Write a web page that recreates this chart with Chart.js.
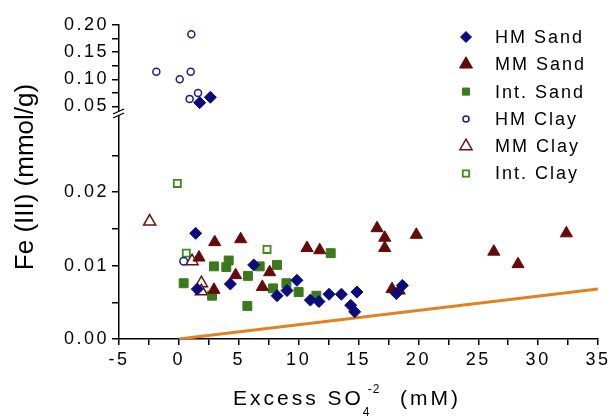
<!DOCTYPE html>
<html>
<head>
<meta charset="utf-8">
<script src="https://cdn.jsdelivr.net/npm/chart.js@4.4.0/dist/chart.umd.min.js"></script>
<style>
html, body { margin: 0; padding: 0; background: #fff; }
#wrap { width: 612px; height: 416px; position: relative; }
</style>
</head>
<body>
<div id="wrap"><canvas id="feChart"></canvas></div>
<script>
// [Excess SO4 (mM), Fe(III) (mmol/g)]
const hmSand = [[1.40, 0.0144], [1.54, 0.0068], [4.3, 0.0075], [6.25, 0.0101], [8.2, 0.0059],
    [9.03, 0.0066], [9.86, 0.0080], [10.98, 0.0053], [11.7, 0.0051], [12.54, 0.0061],
    [13.57, 0.0061], [14.87, 0.0064], [14.35, 0.0046], [14.68, 0.0037], [18.66, 0.0073], [18.16, 0.0062]];
const hmSandHigh = [[1.74, 0.057], [2.63, 0.067]];
const mmSand = [[2.99, 0.0132], [5.16, 0.0136], [1.68, 0.0111], [4.74, 0.0087], [7.58, 0.0091],
    [6.97, 0.0071], [2.93, 0.0067], [10.7, 0.0124], [11.76, 0.0121], [16.55, 0.0151],
    [17.19, 0.0138], [17.19, 0.0124], [19.83, 0.0142], [26.3, 0.0119], [28.32, 0.0102],
    [32.36, 0.0144], [17.8, 0.0068], [18.4, 0.0066]];
const intSand = [[0.4, 0.0076], [2.93, 0.0099], [4.16, 0.0107], [3.96, 0.0098], [5.77, 0.0086],
    [6.75, 0.0099], [8.19, 0.0101], [7.86, 0.0069], [2.77, 0.0059], [5.72, 0.0045],
    [8.98, 0.0076], [10.0, 0.0064], [11.48, 0.0059], [12.68, 0.0117]];
const hmClay = [[0.4, 0.0106]];
const hmClayHigh = [[1.04, 0.183], [-1.88, 0.114], [0.99, 0.114], [0.07, 0.100], [0.9, 0.064], [1.6, 0.075]];
const mmClay = [[-2.44, 0.0160], [1.1, 0.0106], [1.88, 0.0076], [1.88, 0.0065]];
const intClay = [[-0.13, 0.0212], [0.62, 0.0117], [7.36, 0.0122]];
const limitLine = [[0, 0], [35, 0.0068]];

const xMajor = [-5, 0, 5, 10, 15, 20, 25, 30, 35];
const xMinor = [-2.5, 2.5, 7.5, 12.5, 17.5, 22.5, 27.5, 32.5];
const lowMajor = [0, 0.01, 0.02];
const lowMinor = [0.005, 0.015, 0.025];
const highMajor = [0.05, 0.10, 0.15, 0.20];
const highMinor = [0.075, 0.125, 0.175];

const FONT = '"Liberation Sans", Arial, sans-serif';
Chart.defaults.font.family = FONT;
Chart.defaults.color = '#000';

const toXY = arr => arr.map(p => ({ x: p[0], y: p[1] }));
const has = (list, v) => list.some(m => Math.abs(m - v) < 1e-9);

// legend entries drawn by hand inside the plot
const legendItems = [
    { text: 'HM Sand', style: 'rectRot', r: 5.5, fill: '#0b0b7d', stroke: '#0b0b7d', bw: 1 },
    { text: 'MM Sand', style: 'triangle', r: 7.5, fill: '#650a0a', stroke: '#650a0a', bw: 1 },
    { text: 'Int. Sand', style: 'rect', r: 5, fill: '#3b7a1c', stroke: '#3b7a1c', bw: 1 },
    { text: 'HM Clay', style: 'circle', r: 3, fill: '#fff', stroke: '#1c1c8c', bw: 1.5 },
    { text: 'MM Clay', style: 'triangle', r: 7, fill: '#fff', stroke: '#6b1010', bw: 1.5 },
    { text: 'Int. Clay', style: 'rect', r: 4.5, fill: '#fff', stroke: '#3e8a1e', bw: 1.8 }
];

const decorations = {
    id: 'decorations',
    beforeLayout(chart) {
        chart.ctx.letterSpacing = '2.5px';
    },
    beforeDraw(chart) {
        const ctx = chart.ctx;
        ctx.save();
        ctx.fillStyle = '#fff';
        ctx.fillRect(0, 0, chart.width, chart.height);
        ctx.restore();
        ctx.letterSpacing = '2.5px';
    },
    afterDraw(chart) {
        const ctx = chart.ctx;
        // axis break
        const b = chart.scales.y.top;
        const ax = chart.scales.y.right;
        ctx.save();
        ctx.fillStyle = '#fff';
        ctx.fillRect(ax - 3, b - 2, 6, 4);
        ctx.strokeStyle = '#000';
        ctx.lineWidth = 1.3;
        ctx.beginPath();
        ctx.moveTo(ax - 6, b + 1); ctx.lineTo(ax + 5, b - 4);
        ctx.moveTo(ax - 6, b + 5); ctx.lineTo(ax + 5, b);
        ctx.stroke();
        ctx.restore();

        // x title
        ctx.save();
        ctx.fillStyle = '#000';
        ctx.textAlign = 'left';
        ctx.textBaseline = 'alphabetic';
        ctx.letterSpacing = '3px';
        ctx.font = '21px ' + FONT;
        const base = 405;
        let x0 = 233;
        ctx.fillText('Excess SO', x0, base);
        x0 += ctx.measureText('Excess SO').width;
        ctx.font = '12px ' + FONT;
        ctx.letterSpacing = '1px';
        ctx.fillText('4', x0 - 1, base + 11);
        ctx.fillText('-2', x0 + 4, base - 12);
        ctx.font = '21px ' + FONT;
        ctx.letterSpacing = '3px';
        ctx.fillText('(mM)', 400, base);
        ctx.restore();

        // y title
        ctx.save();
        ctx.fillStyle = '#000';
        ctx.letterSpacing = '0px';
        ctx.translate(33, 177);
        ctx.rotate(-Math.PI / 2);
        ctx.textAlign = 'center';
        ctx.textBaseline = 'alphabetic';
        ctx.font = '26px ' + FONT;
        ctx.fillText('Fe (III) (mmol/g)', 0, 0);
        ctx.restore();

        // legend
        ctx.save();
        legendItems.forEach((it, i) => {
            const y = 37 + i * 27.3;
            ctx.fillStyle = it.fill;
            ctx.strokeStyle = it.stroke;
            ctx.lineWidth = it.bw;
            Chart.helpers.drawPoint(ctx, { pointStyle: it.style, radius: it.r, rotation: 0, borderWidth: it.bw }, 466, y);
            ctx.fillStyle = '#000';
            ctx.font = '18px ' + FONT;
            ctx.letterSpacing = '2px';
            ctx.textAlign = 'left';
            ctx.textBaseline = 'middle';
            ctx.fillText(it.text, 495, y + 1);
        });
        ctx.restore();
    }
};

function axisLook(tickLength) {
    return {
        grid: { drawOnChartArea: false, drawTicks: true, tickLength: tickLength, color: '#000', lineWidth: 1.5 },
        border: { display: true, color: '#000', width: 1.5 }
    };
}

function fixedTicks(major, minor) {
    return axis => {
        axis.ticks = major.concat(minor).sort((a, b) => a - b).map(v => ({ value: v }));
    };
}

new Chart(document.getElementById('feChart'), {
    type: 'scatter',
    data: {
        datasets: [
            {
                label: 'HM Sand', data: toXY(hmSand), yAxisID: 'y',
                pointStyle: 'rectRot', pointRadius: 6, backgroundColor: '#0b0b7d', borderColor: '#0b0b7d', borderWidth: 1
            },
            {
                label: 'HM Sand', data: toXY(hmSandHigh), yAxisID: 'y2',
                pointStyle: 'rectRot', pointRadius: 6, backgroundColor: '#0b0b7d', borderColor: '#0b0b7d', borderWidth: 1
            },
            {
                label: 'MM Sand', data: toXY(mmSand), yAxisID: 'y',
                pointStyle: 'triangle', pointRadius: 7, backgroundColor: '#650a0a', borderColor: '#650a0a', borderWidth: 1
            },
            {
                label: 'Int. Sand', data: toXY(intSand), yAxisID: 'y',
                pointStyle: 'rect', pointRadius: 6.3, backgroundColor: '#3b7a1c', borderColor: '#3b7a1c', borderWidth: 1
            },
            {
                label: 'HM Clay', data: toXY(hmClay), yAxisID: 'y',
                pointStyle: 'circle', pointRadius: 3.8, backgroundColor: '#fff', borderColor: '#1c1c8c', borderWidth: 1.5
            },
            {
                label: 'HM Clay', data: toXY(hmClayHigh), yAxisID: 'y2',
                pointStyle: 'circle', pointRadius: 3.5, backgroundColor: '#fff', borderColor: '#1c1c8c', borderWidth: 1.5
            },
            {
                label: 'MM Clay', data: toXY(mmClay), yAxisID: 'y',
                pointStyle: 'triangle', pointRadius: 7, backgroundColor: '#fff', borderColor: '#6b1010', borderWidth: 1.5
            },
            {
                label: 'Int. Clay', data: toXY(intClay), yAxisID: 'y',
                pointStyle: 'rect', pointRadius: 5, backgroundColor: '#fff', borderColor: '#3e8a1e', borderWidth: 1.8
            },
            {
                type: 'line', label: 'limit', data: toXY(limitLine), yAxisID: 'y',
                showLine: true, pointRadius: 0, borderColor: '#e0821f', borderWidth: 3, fill: false
            }
        ]
    },
    options: {
        responsive: true,
        maintainAspectRatio: false,
        animation: false,
        layout: { padding: { top: 25, right: 14, left: 0, bottom: 0 } },
        plugins: {
            legend: { display: false },
            tooltip: { enabled: false }
        },
        scales: {
            x: {
                type: 'linear', position: 'bottom', min: -5, max: 35,
                ...axisLook(6),
                afterBuildTicks: fixedTicks(xMajor, xMinor),
                afterFit: s => { s.height = 77; s.paddingLeft = 0; s.paddingRight = 0; },
                ticks: {
                    font: { size: 18 }, padding: 4, maxRotation: 0, autoSkip: false,
                    callback: v => has(xMajor, v) ? String(v) : ''
                }
            },
            y: {
                type: 'linear', position: 'left', stack: 'fe', stackWeight: 226, weight: 0,
                min: 0, max: 0.0308,
                ...axisLook(7),
                afterBuildTicks: fixedTicks(lowMajor, lowMinor),
                afterFit: s => { s.width = 119; },
                ticks: {
                    font: { size: 18 }, padding: 3, autoSkip: false,
                    callback: v => has(lowMajor, v) ? v.toFixed(2) : ''
                }
            },
            y2: {
                type: 'linear', position: 'left', stack: 'fe', stackWeight: 88, weight: 1,
                min: 0.038, max: 0.2, offset: false,
                ...axisLook(7),
                afterBuildTicks: fixedTicks(highMajor, highMinor),
                afterFit: s => { s.width = 119; },
                ticks: {
                    font: { size: 18 }, padding: 3, autoSkip: false,
                    callback: v => has(highMajor, v) ? v.toFixed(2) : ''
                }
            }
        }
    },
    plugins: [decorations]
});
</script>
</body>
</html>
